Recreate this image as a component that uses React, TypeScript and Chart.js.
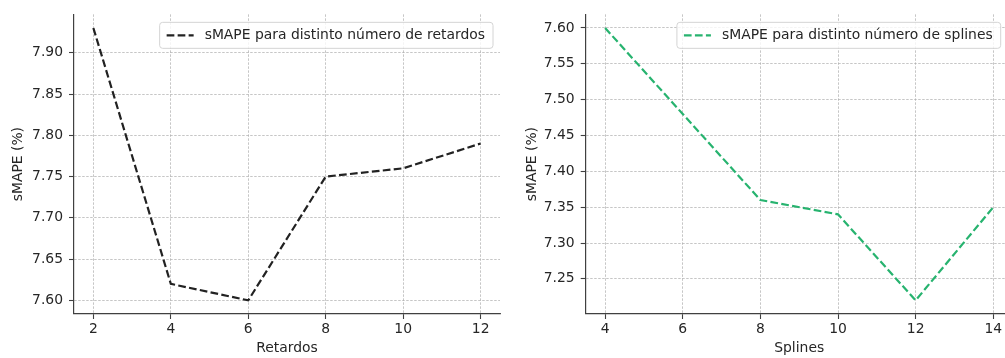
import { useEffect, useRef } from "react";
import { Chart, registerables } from "chart.js";

Chart.register(...registerables);

// ---- data ----
const retardos = [2, 4, 6, 8, 10, 12];
const smapeRetardos = [7.93, 7.62, 7.6, 7.75, 7.76, 7.79];
const splines = [4, 6, 8, 10, 12, 14];
const smapeSplines = [7.6, 7.48, 7.36, 7.34, 7.22, 7.35];

const retardosTicks = [2, 4, 6, 8, 10, 12];
const smapeRetardosTicks = [7.6, 7.65, 7.7, 7.75, 7.8, 7.85, 7.9];
const splinesTicks = [4, 6, 8, 10, 12, 14];
const smapeSplinesTicks = [7.25, 7.3, 7.35, 7.4, 7.45, 7.5, 7.55, 7.6];

const retardosRange = [1.5, 12.5];
const smapeRetardosRange = [7.5835, 7.9465];
const splinesRange = [3.5, 14.5];
const smapeSplinesRange = [7.201, 7.619];

const labelRetardos = "sMAPE para distinto número de retardos";
const labelSplines = "sMAPE para distinto número de splines";

const FONT = '"DejaVu Sans", sans-serif';
const FS = 13.9;
const TEXT = "#262626";

const insideLegend = {
  id: "insideLegend",
  afterDatasetsDraw(chart: any, _args: any, opts: any) {
    const ds = chart.data.datasets[0];
    const { ctx, chartArea } = chart;
    ctx.save();
    ctx.font = `${FS}px ${FONT}`;
    const tw = ctx.measureText(ds.label).width;
    const w = opts.padLeft + opts.sample + opts.gap + tw + opts.padRight;
    const h = opts.height;
    const x = chartArea.right - opts.right - w;
    const y = chartArea.top + opts.top;
    const r = 3;
    ctx.beginPath();
    ctx.moveTo(x + r, y);
    ctx.lineTo(x + w - r, y);
    ctx.quadraticCurveTo(x + w, y, x + w, y + r);
    ctx.lineTo(x + w, y + h - r);
    ctx.quadraticCurveTo(x + w, y + h, x + w - r, y + h);
    ctx.lineTo(x + r, y + h);
    ctx.quadraticCurveTo(x, y + h, x, y + h - r);
    ctx.lineTo(x, y + r);
    ctx.quadraticCurveTo(x, y, x + r, y);
    ctx.closePath();
    ctx.fillStyle = "rgba(255,255,255,0.8)";
    ctx.fill();
    ctx.strokeStyle = "#d4d4d4";
    ctx.lineWidth = 1;
    ctx.stroke();
    const cy = y + h / 2;
    ctx.beginPath();
    ctx.setLineDash(ds.borderDash);
    ctx.strokeStyle = ds.borderColor;
    ctx.lineWidth = ds.borderWidth;
    ctx.moveTo(x + opts.padLeft, cy);
    ctx.lineTo(x + opts.padLeft + opts.sample, cy);
    ctx.stroke();
    ctx.setLineDash([]);
    ctx.fillStyle = TEXT;
    ctx.textBaseline = "middle";
    ctx.textAlign = "left";
    ctx.fillText(ds.label, x + opts.padLeft + opts.sample + opts.gap, cy + 0.5);
    ctx.restore();
  },
};

type Props = {
  xs: number[];
  ys: number[];
  label: string;
  color: string;
  xRange: number[];
  yRange: number[];
  xTicks: number[];
  yTicks: number[];
  xTitle: string;
  left: number;
  width: number;
  padRight: number;
  yAxisWidth: number;
  yTitlePad: number;
  yTickPad: number;
  legendRight: number;
};

function LineChart(p: Props) {
  const ref = useRef<HTMLCanvasElement | null>(null);
  useEffect(() => {
    if (!ref.current) return;
    const gridCommon = {
      color: "rgba(170,170,170,0.85)",
      lineWidth: 0.8,
      tickColor: "#404040",
      tickWidth: 1.1,
      tickLength: 5,
      tickBorderDash: [],
    };
    const borderCommon = { display: true, color: "#404040", width: 1.2, dash: [2.5, 1.5] };
    const chart = new Chart(ref.current, {
      type: "line",
      data: {
        datasets: [
          {
            label: p.label,
            data: p.xs.map((x, i) => ({ x, y: p.ys[i] })),
            borderColor: p.color,
            backgroundColor: p.color,
            borderWidth: 2.2,
            borderDash: [7.7, 3.3],
            pointRadius: 0,
            tension: 0,
            fill: false,
          },
        ],
      },
      options: {
        responsive: false,
        animation: false,
        devicePixelRatio: 1,
        layout: { padding: { top: 8, left: 0, right: p.padRight, bottom: 0 } },
        plugins: {
          legend: { display: false },
          tooltip: { enabled: false },
          insideLegend: {
            right: p.legendRight,
            top: 8,
            padLeft: 7,
            sample: 27,
            gap: 11,
            padRight: 8,
            height: 26,
          },
        } as any,
        scales: {
          x: {
            type: "linear",
            min: p.xRange[0],
            max: p.xRange[1],
            afterBuildTicks: (s: any) => {
              s.ticks = p.xTicks.map((v) => ({ value: v }));
            },
            afterFit: (s: any) => {
              s.height = 44;
            },
            ticks: {
              color: TEXT,
              font: { family: FONT, size: FS },
              padding: 1.7,
              maxRotation: 0,
              callback: (v: any) => String(v),
            },
            grid: gridCommon,
            border: borderCommon,
            title: {
              display: true,
              text: p.xTitle,
              color: TEXT,
              font: { family: FONT, size: FS },
              padding: { top: 0, bottom: 1.2 },
            },
          },
          y: {
            type: "linear",
            min: p.yRange[0],
            max: p.yRange[1],
            afterBuildTicks: (s: any) => {
              s.ticks = p.yTicks.map((v) => ({ value: v }));
            },
            afterFit: (s: any) => {
              s.width = p.yAxisWidth;
            },
            ticks: {
              color: TEXT,
              font: { family: FONT, size: FS },
              padding: p.yTickPad,
              callback: (v: any) => Number(v).toFixed(2),
            },
            grid: gridCommon,
            border: borderCommon,
            title: {
              display: true,
              text: "sMAPE (%)",
              color: TEXT,
              font: { family: FONT, size: FS },
              padding: { top: p.yTitlePad, bottom: 0 },
            },
          },
        },
      },
      plugins: [insideLegend],
    } as any);
    return () => chart.destroy();
  }, []);
  return (
    <canvas
      ref={ref}
      width={p.width}
      height={358}
      style={{ position: "absolute", left: p.left, top: 0, width: p.width, height: 358 }}
    />
  );
}

export default function App() {
  return (
    <div
      style={{
        position: "absolute",
        left: 0,
        top: 0,
        width: 1005,
        height: 358,
        overflow: "hidden",
        background: "#fff",
      }}
    >
      <LineChart
        xs={retardos}
        ys={smapeRetardos}
        label={labelRetardos}
        color="#222222"
        xRange={retardosRange}
        yRange={smapeRetardosRange}
        xTicks={retardosTicks}
        yTicks={smapeRetardosTicks}
        xTitle="Retardos"
        left={0}
        width={505}
        padRight={5}
        yAxisWidth={74}
        yTitlePad={10.2}
        yTickPad={6}
        legendRight={7}
      />
      <LineChart
        xs={splines}
        ys={smapeSplines}
        label={labelSplines}
        color="#27b36f"
        xRange={splinesRange}
        yRange={smapeSplinesRange}
        xTicks={splinesTicks}
        yTicks={smapeSplinesTicks}
        xTitle="Splines"
        left={505}
        width={520}
        padRight={12.3}
        yAxisWidth={80.7}
        yTitlePad={18.7}
        yTickPad={6}
        legendRight={12}
      />
    </div>
  );
}
